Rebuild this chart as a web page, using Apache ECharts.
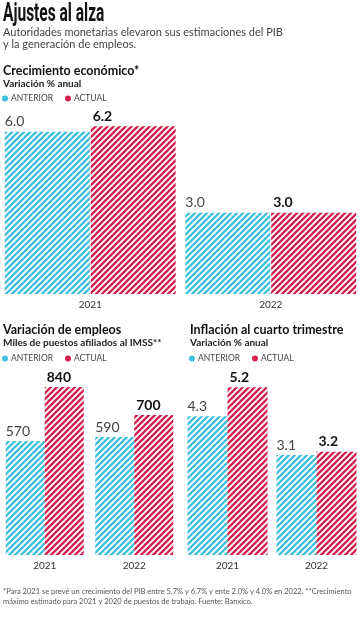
<!DOCTYPE html>
<html><head><meta charset="utf-8">
<script src="https://cdn.jsdelivr.net/npm/echarts@6/dist/echarts.min.js"></script>
<style>html,body{margin:0;padding:0;background:#fff}#c{width:361px;height:620px}</style>
</head><body><div id="c"></div>
<script>
const years = ['2021', '2022'];
const seriesNames = ['ANTERIOR', 'ACTUAL'];
const pibAnterior = [6.0, 3.0];
const pibActual = [6.2, 3.0];
const empAnterior = [570, 590];
const empActual = [840, 700];
const infAnterior = [4.3, 3.1];
const infActual = [5.2, 3.2];

const CYAN = '#3fc0df', RED = '#d3224d';
const FONT = 'Lato';

function stripes(color) {
  const s = 6;
  const c = document.createElement('canvas');
  c.width = s; c.height = s;
  const g = c.getContext('2d');
  g.fillStyle = '#fff'; g.fillRect(0, 0, s, s);
  g.strokeStyle = color; g.lineWidth = 2.3; g.lineCap = 'square';
  g.beginPath();
  g.moveTo(-1, s + 1); g.lineTo(s + 1, -1);
  g.moveTo(-2, 2); g.lineTo(2, -2);
  g.moveTo(s - 2, s + 2); g.lineTo(s + 2, s - 2);
  g.stroke();
  return { image: c, repeat: 'repeat' };
}
const cyanPat = stripes(CYAN), redPat = stripes(RED);

function lbl(bold, dec) {
  return {
    show: true, position: [bold ? 2 : 0, -3], align: 'left', verticalAlign: 'bottom',
    fontFamily: FONT, fontSize: 14, fontWeight: bold ? 'bold' : 'normal',
    color: bold ? '#111' : '#444',
    formatter: p => dec ? p.value.toFixed(1) : String(p.value)
  };
}

function bars(gi, ant, act, bw, gap, dec) {
  return [
    { type: 'bar', name: seriesNames[0], xAxisIndex: gi, yAxisIndex: gi, data: ant,
      barWidth: bw, barGap: gap, itemStyle: { color: cyanPat }, label: lbl(false, dec),
      emphasis: { disabled: true } },
    { type: 'bar', name: seriesNames[1], xAxisIndex: gi, yAxisIndex: gi, data: act,
      barWidth: bw, barGap: gap, itemStyle: { color: redPat }, label: lbl(true, dec),
      emphasis: { disabled: true } }
  ];
}

function xa(gi) {
  return { type: 'category', gridIndex: gi, data: years,
    axisLine: { show: false }, axisTick: { show: false },
    axisLabel: { fontFamily: FONT, fontSize: 10, color: '#333', margin: 6 } };
}
function ya(gi, max) {
  return { type: 'value', gridIndex: gi, min: 0, max: max, show: false, splitLine: { show: false } };
}
function leg(left, top) {
  return { left: left, top: top, icon: 'circle', itemWidth: 6, itemHeight: 6, itemGap: 12,
    selectedMode: false, padding: 0,
    textStyle: { fontFamily: FONT, fontSize: 8.5, color: '#444', padding: [0, 0, 0, -2] },
    data: [{ name: seriesNames[0], itemStyle: { color: CYAN } },
           { name: seriesNames[1], itemStyle: { color: RED } }] };
}
function ttl(text, left, top, size, bold, color) {
  return { text: text, left: left, top: top, padding: 0,
    textStyle: { fontFamily: FONT, fontSize: size, fontWeight: bold ? 'bold' : 'normal', color: color } };
}

const chart = echarts.init(document.getElementById('c'), null, { renderer: 'canvas' });
chart.setOption({
  animation: false,
  backgroundColor: '#fff',
  graphic: [{
    type: 'text', left: 3, top: 2, scaleX: 0.62,
    style: { text: 'Ajustes al alza', fontFamily: 'Roboto', fontSize: 25, fontWeight: 'bold', fill: '#111' }
  }],
  title: [
    { text: 'Autoridades monetarias elevaron sus estimaciones del PIB\ny la generación de empleos.',
      left: 3, top: 27, padding: 0,
      textStyle: { fontFamily: FONT, fontSize: 11, lineHeight: 11.5, color: '#444', fontWeight: 'normal' } },
    ttl('Crecimiento económico*', 3, 64, 12.5, true, '#111'),
    ttl('Variación % anual', 3, 79, 10, true, '#222'),
    ttl('Variación de empleos', 3, 323, 12.5, true, '#111'),
    ttl('Miles de puestos afiliados al IMSS**', 3, 338, 10, true, '#222'),
    ttl('Inflación al cuarto trimestre', 190, 323, 12.5, true, '#111'),
    ttl('Variación % anual', 190, 338, 10, true, '#222'),
    { text: '*Para 2021 se prevé un crecimiento del PIB entre 5.7% y 6.7% y ente 2.0% y 4.0% en 2022. **Crecimiento\nmáximo estimado para 2021 y 2020 de puestos de trabajo. Fuente: Banxico.',
      left: 3, top: 587, padding: 0,
      textStyle: { fontFamily: FONT, fontSize: 7.5, lineHeight: 10, color: '#555', fontWeight: 'normal' } }
  ],
  legend: [leg(2, 94), leg(2, 354), leg(189, 354)],
  grid: [
    { left: -4, width: 372, top: 110, height: 184 },
    { left: -5, width: 184, top: 355, height: 200 },
    { left: 183, width: 183, top: 355, height: 200 }
  ],
  xAxis: [xa(0), xa(1), xa(2)],
  yAxis: [ya(0, 6.8), ya(1, 1000), ya(2, 6.2)],
  series: [
    ...bars(0, pibAnterior, pibActual, 85, '1%', true),
    ...bars(1, empAnterior, empActual, 39, '0%', false),
    ...bars(2, infAnterior, infActual, 40, '0%', true)
  ]
});
</script></body></html>
